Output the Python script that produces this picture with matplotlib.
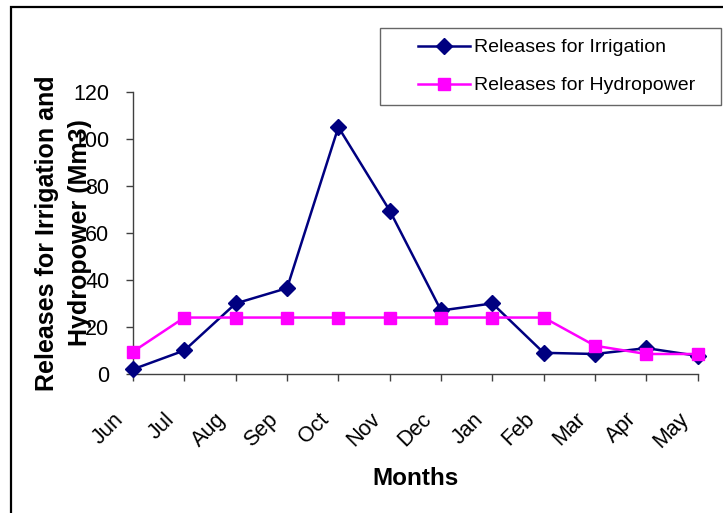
import matplotlib
matplotlib.use('Agg')
import matplotlib.pyplot as plt
import matplotlib.transforms as mtransforms
from matplotlib.patches import Rectangle
from matplotlib.legend_handler import HandlerLine2D

plt.rcParams['font.family'] = ['Liberation Sans', 'DejaVu Sans']

months = ['Jun', 'Jul', 'Aug', 'Sep', 'Oct', 'Nov', 'Dec', 'Jan', 'Feb', 'Mar', 'Apr', 'May']
irrigation = [2, 10, 30, 36.5, 105, 69.5, 27, 30, 9, 8.5, 11, 7.7]
hydropower = [9.5, 24, 24, 24, 24, 24, 24, 24, 24, 12, 8.5, 8.5]
yticks = [0, 20, 40, 60, 80, 100, 120]

fig = plt.figure(figsize=(7.23, 5.13), dpi=100)
ax = fig.add_axes([0.184, 0.271, 0.781, 0.550])

x = range(len(months))
l1, = ax.plot(x, irrigation, color='#000080', lw=1.8, marker='D', ms=8,
              mec='#000080', mfc='#000080', clip_on=False, zorder=3,
              label='Releases for Irrigation')
l2, = ax.plot(x, hydropower, color='#FF00FF', lw=1.8, marker='s', ms=9,
              mec='#FF00FF', mfc='#FF00FF', clip_on=False, zorder=4,
              label='Releases for Hydropower')

ax.set_xlim(0, len(months) - 1)
ax.set_ylim(0, 120)
ax.set_yticks(yticks)
ax.set_xticks(list(x))
ax.set_xticklabels(months, rotation=45, ha='right', va='top', rotation_mode='anchor')

for s in ['top', 'right']:
    ax.spines[s].set_visible(False)
for s in ['left', 'bottom']:
    ax.spines[s].set_color('#404040')
    ax.spines[s].set_linewidth(1.0)
ax.tick_params(axis='both', labelsize=15.5, length=5, width=1.0, color='#404040', direction='out')
ax.tick_params(axis='y', pad=12)
ax.tick_params(axis='x', pad=10)

# nudge the rotated month labels down-left like the original
shift = mtransforms.ScaledTranslation(-20 / 100, -14 / 100, fig.dpi_scale_trans)
for lab in ax.get_xticklabels():
    lab.set_transform(lab.get_transform() + shift)

ax.set_ylabel('Releases for Irrigation and\nHydropower (Mm3)', fontsize=18,
              fontweight='bold', va='center', linespacing=1.5)
ax.yaxis.set_label_coords(-0.123, 0.5)
ax.set_xlabel('Months', fontsize=17.5, fontweight='bold', va='center')
ax.xaxis.set_label_coords(0.5, -0.372)

hmap = {l1: HandlerLine2D(xpad=1.4), l2: HandlerLine2D(xpad=1.4)}
leg = fig.legend(handles=[l1, l2], handler_map=hmap, loc='upper left',
                 bbox_to_anchor=(380 / 723, 0.4, 341 / 723, 1 - 28 / 513 - 0.4),
                 mode='expand', fontsize=14,
                 frameon=True, fancybox=False, edgecolor='#404040',
                 handlelength=4.1, handletextpad=0.2, labelspacing=1.05,
                 borderpad=0.55, borderaxespad=0)
leg.get_frame().set_linewidth(1.0)

fig.patches.append(Rectangle((11 / 723, -0.02), 1.05, 1 - 7 / 513 + 0.02,
                             transform=fig.transFigure, fill=False,
                             edgecolor='black', lw=1.6))

fig.savefig('out.png', dpi=100)
